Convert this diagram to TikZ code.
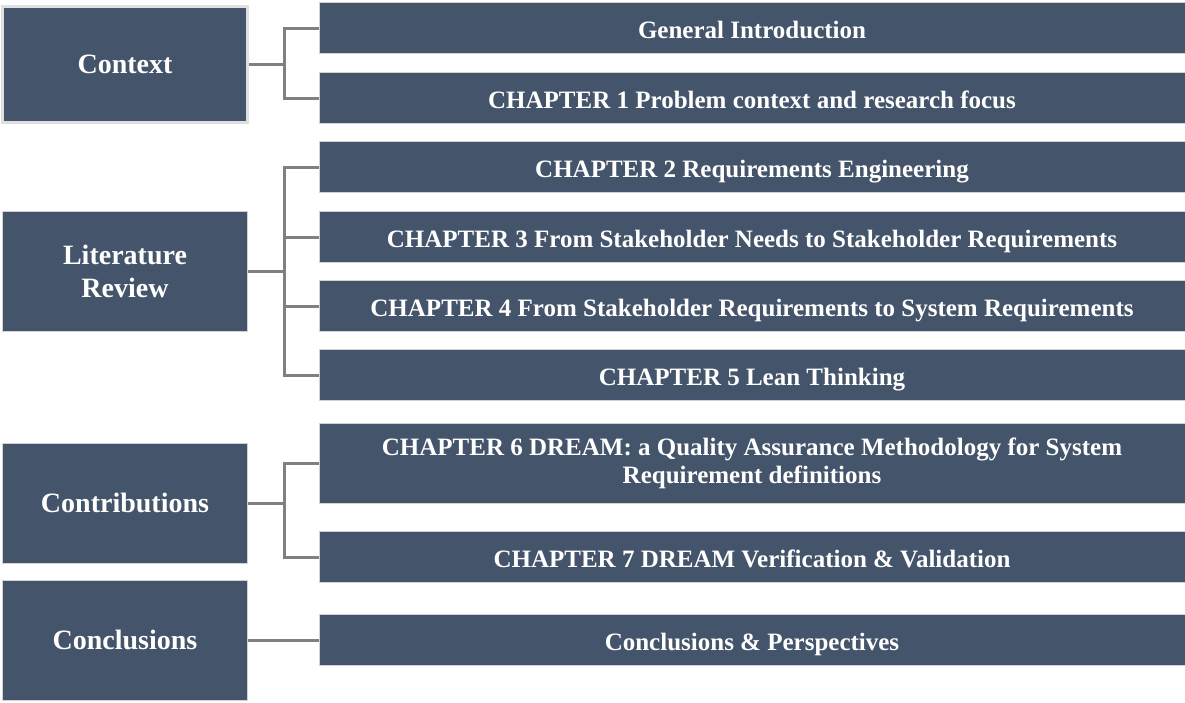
\documentclass[tikz,border=0pt]{standalone}
\usepackage{fontspec}
\setmainfont{Liberation Serif}
\usepackage{tikz}

\definecolor{boxblue}{HTML}{44546A}
\definecolor{linegray}{HTML}{808080}

\begin{document}
\begin{tikzpicture}[x=1pt, y=-1pt,
        every node/.style={rectangle, fill=boxblue, draw=gray!35, line width=0.6pt, text=white, font=\bfseries, inner sep=0pt, align=center},
        part/.style={minimum width=245pt, minimum height=120pt, font=\fontsize{28}{33}\selectfont\bfseries},
        chap/.style={minimum width=866pt, minimum height=51pt, text height=23pt, text depth=3pt, font=\fontsize{25}{28}\selectfont\bfseries},
        link/.style={draw=linegray, line width=3pt}]

        \useasboundingbox (0,0) rectangle (1185,702);

        % Blocchi a sinistra
        \node[part, minimum height=116pt, draw=gray!25, line width=3pt] (ctx) at (125,64) {Context};
        \node[part] (lit) at (125,271) {Literature\\Review};
        \node[part] (contr) at (125,503) {Contributions};
        \node[part] (concl) at (125,640) {Conclusions};

        % Capitoli a destra
        \node[chap] (gi) at (752,28) {General Introduction};
        \node[chap] (ch1) at (752,98) {CHAPTER 1 Problem context and research focus};
        \node[chap] (ch2) at (752,167) {CHAPTER 2 Requirements Engineering};
        \node[chap] (ch3) at (752,237) {CHAPTER 3 From Stakeholder Needs to Stakeholder Requirements};
        \node[chap] (ch4) at (752,306) {CHAPTER 4 From Stakeholder Requirements to System Requirements};
        \node[chap] (ch5) at (752,375) {CHAPTER 5 Lean Thinking};
        \node[chap, text height=, text depth=, minimum height=80pt] (ch6) at (752,463) {CHAPTER 6 DREAM: a Quality Assurance Methodology for System\\Requirement definitions};
        \node[chap] (ch7) at (752,557) {CHAPTER 7 DREAM Verification \& Validation};
        \node[chap] (cp) at (752,640) {Conclusions \& Perspectives};

        % Punti di diramazione
        \coordinate (f1) at (284,64);
        \coordinate (f2) at (284,271);
        \coordinate (f3) at (284,503);

        % Collegamenti
        \draw[link] (ctx.east) -- (f1);
        \draw[link] (f1) |- (gi.west);
        \draw[link] (f1) |- (ch1.west);
        \draw[link] (lit.east) -- (f2);
        \draw[link] (f2) |- (ch2.west);
        \draw[link] (f2) |- (ch3.west);
        \draw[link] (f2) |- (ch4.west);
        \draw[link] (f2) |- (ch5.west);
        \draw[link] (contr.east) -- (f3);
        \draw[link] (f3) |- (ch6.west);
        \draw[link] (f3) |- (ch7.west);
        \draw[link] (concl.east) -- (cp.west);
    \end{tikzpicture}
\end{document}
